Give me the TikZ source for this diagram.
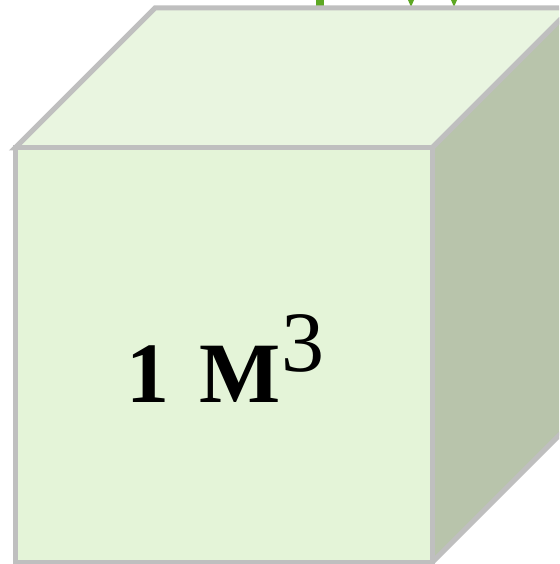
\documentclass[tikz,border=0pt]{standalone}
\usepackage{fontspec}
\setmainfont{Liberation Serif}
\definecolor{frontc}{HTML}{E4F4D8}
\definecolor{topc}{HTML}{E9F5E0}
\definecolor{sidec}{HTML}{B8C4AB}
\definecolor{edgec}{HTML}{BFBFBF}
\definecolor{leafc}{HTML}{5DA823}
\tikzset{face/.style={draw=edgec,line width=5pt,line join=miter},
leaf/.style={fill=leafc,draw=none}}
\begin{document}
\begin{tikzpicture}[x=1pt,y=-1pt]
\useasboundingbox (0,0) rectangle (559,564);
\clip (0,0) rectangle (559,564);
\fill[white] (0,0) rectangle (559,564);
% green fragments at the top
\fill[leaf] (316,0) rectangle (324,7);
\fill[leaf] (408,0) -- (414,0) -- (411,7) -- cycle;
\fill[leaf] (451,0) -- (457,0) -- (454,7) -- cycle;
% cube corners
\coordinate (A) at (15,148);
\coordinate (B) at (432,148);
\coordinate (C) at (432,562.5);
\coordinate (D) at (15,562.5);
\coordinate (E) at (155,8);
\coordinate (F) at (572,8);
\coordinate (G) at (572,422.5);
% faces
\filldraw[face,fill=topc] (A) -- (E) -- (F) -- (B) -- cycle;
\filldraw[face,fill=sidec] (B) -- (F) -- (G) -- (C) -- cycle;
\filldraw[face,fill=frontc] (A) -- (B) -- (C) -- (D) -- cycle;
\node[anchor=base west,inner sep=0pt] (label) at (126,402)
  {\fontsize{86}{90}\selectfont\textbf{1\hspace{9pt} M}\hspace{1pt}\raisebox{31pt}{3}};
\end{tikzpicture}
\end{document}
